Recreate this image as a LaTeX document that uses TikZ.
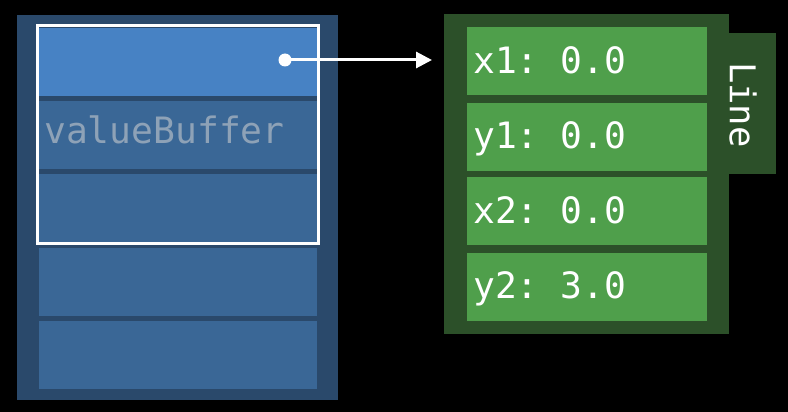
\documentclass[tikz,border=0pt]{standalone}
\usepackage{fontspec}
\setmonofont{DejaVu Sans Mono}
\usetikzlibrary{arrows.meta}
\definecolor{bgblue}{HTML}{2A496B}
\definecolor{cellblue}{HTML}{3A6796}
\definecolor{topblue}{HTML}{4782C4}
\definecolor{txtgray}{HTML}{8EA2B7}
\definecolor{bggreen}{HTML}{2C5029}
\definecolor{cellgreen}{HTML}{4F9F4B}
\tikzset{
  box/.style={draw=none, inner sep=0pt, outer sep=0pt, anchor=north west},
  bcell/.style={box, fill=cellblue, minimum width=278pt, minimum height=68pt},
  gcell/.style={box, fill=cellgreen, minimum width=240pt, minimum height=68pt},
  label/.style={inner sep=0pt, anchor=base west, font=\ttfamily\fontsize{36.3}{40}\selectfont, text=white},
}
\begin{document}
\begin{tikzpicture}[x=1pt,y=-1pt]
\fill[black] (0,0) rectangle (788,412);
\useasboundingbox (0,0) rectangle (788,412);
% left buffer
\node[box, fill=bgblue, minimum width=321pt, minimum height=385pt] (buf) at (17,15) {};
\node[bcell, fill=topblue] (c1) at (39,28) {};
\node[bcell] (c2) at (39,101) {};
\node[bcell] (c3) at (39,174) {};
\node[bcell] (c4) at (39,248) {};
\node[bcell] (c5) at (39,321) {};
\node[label, text=txtgray] (vb) at (44,143) {valueBuffer};
\node[box, draw=white, line width=3pt, minimum width=281pt, minimum height=218pt] (sel) at (37.5,25.5) {};
% right struct
\node[box, fill=bggreen, minimum width=48pt, minimum height=141pt] (tab) at (728,33) {};
\node[box, fill=bggreen, minimum width=285pt, minimum height=320pt] (line) at (444,14) {};
\node[gcell] (g1) at (467,27) {};
\node[gcell] (g2) at (467,103) {};
\node[gcell] (g3) at (467,177) {};
\node[gcell] (g4) at (467,253) {};
\node[label] (t1) at (473,74) {x1: 0.0};
\node[label] (t2) at (473,149) {y1: 0.0};
\node[label] (t3) at (473,223) {x2: 0.0};
\node[label] (t4) at (473,298) {y2: 3.0};
\node[inner sep=0pt, rotate=-90, font=\ttfamily\fontsize{35.5}{40}\selectfont, text=white] (tabtxt) at (743,105) {Line};
% pointer
\node[circle, fill=white, inner sep=0pt, minimum size=13pt] (dot) at (285,60) {};
\coordinate (tip) at (432,60);
\draw[white, line width=3pt, -{Triangle[length=16pt,width=16pt]}] (dot.center) -- (tip);
\end{tikzpicture}
\end{document}
